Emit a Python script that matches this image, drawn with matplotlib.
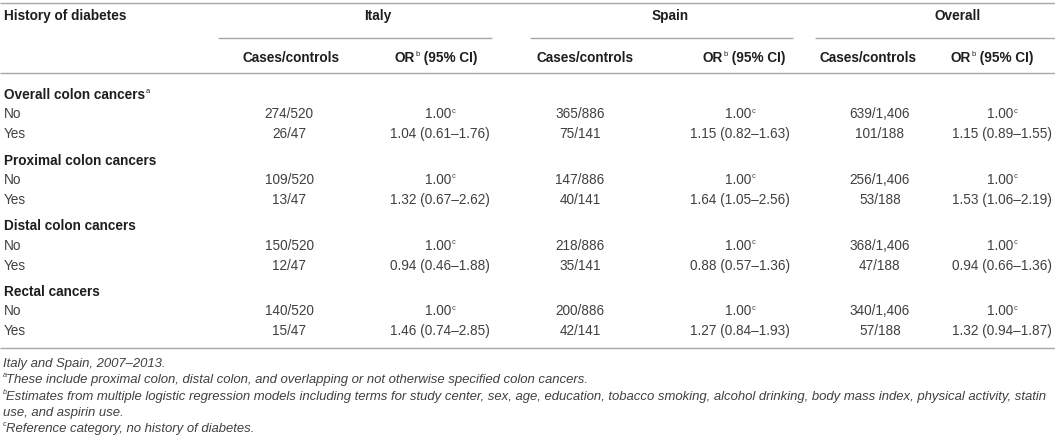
import matplotlib
matplotlib.use('Agg')
import matplotlib.pyplot as plt

plt.rcParams['font.family'] = ['Liberation Sans', 'DejaVu Sans']

# table content
sections = ['Overall colon cancers', 'Proximal colon cancers', 'Distal colon cancers', 'Rectal cancers']
section_sup = ['a', '', '', '']
countries = ['Italy', 'Spain', 'Overall']
cases_no = {
    'Italy': ['274/520', '109/520', '150/520', '140/520'],
    'Spain': ['365/886', '147/886', '218/886', '200/886'],
    'Overall': ['639/1,406', '256/1,406', '368/1,406', '340/1,406'],
}
cases_yes = {
    'Italy': ['26/47', '13/47', '12/47', '15/47'],
    'Spain': ['75/141', '40/141', '35/141', '42/141'],
    'Overall': ['101/188', '53/188', '47/188', '57/188'],
}
or_no = '1.00'
or_yes = {
    'Italy': ['1.04 (0.61–1.76)', '1.32 (0.67–2.62)', '0.94 (0.46–1.88)', '1.46 (0.74–2.85)'],
    'Spain': ['1.15 (0.82–1.63)', '1.64 (1.05–2.56)', '0.88 (0.57–1.36)', '1.27 (0.84–1.93)'],
    'Overall': ['1.15 (0.89–1.55)', '1.53 (1.06–2.19)', '0.94 (0.66–1.36)', '1.32 (0.94–1.87)'],
}
footnotes = [
    ('', 'Italy and Spain, 2007–2013.'),
    ('a', 'These include proximal colon, distal colon, and overlapping or not otherwise specified colon cancers.'),
    ('b', 'Estimates from multiple logistic regression models including terms for study center, sex, age, education, '
          'tobacco smoking, alcohol drinking, body mass index, physical activity, statin'),
    ('', 'use, and aspirin use.'),
    ('c', 'Reference category, no history of diabetes.'),
]

# layout (pixels)
W, H = 1055, 447
group_x = {'Italy': 378, 'Spain': 670, 'Overall': 958}
group_line = {'Italy': (218, 492), 'Spain': (530, 793), 'Overall': (815, 1055)}
head_cases_x = {'Italy': 291, 'Spain': 585, 'Overall': 868}
head_or_x = {'Italy': 436, 'Spain': 744, 'Overall': 992}
cases_x = {'Italy': 289, 'Spain': 580, 'Overall': 880}
or_x = {'Italy': 440, 'Spain': 740, 'Overall': 1002}

TXT = '#404040'
HDR = '#1e1e1e'
RULE = '#a8a8a8'
FS = 9.8
FS_NOTE = 9.45

fig = plt.figure(figsize=(W / 100, H / 100), dpi=100)
ax = fig.add_axes([0, 0, 1, 1])
ax.set_xlim(0, W)
ax.set_ylim(H, 0)
ax.axis('off')

groups = []  # (artists, ha, x)


def put(x, y, parts, ha='center', bold=False, italic=False, size=FS, color=TXT):
    # parts: string, or list of (string, is_superscript)
    if isinstance(parts, str):
        parts = [(parts, False)]
    weight = 'bold' if bold else 'normal'
    slant = 'italic' if italic else 'normal'
    cap = size * 1.389 * 0.716 / 2
    arts = []
    prev = None
    for s, sup in parts:
        if prev is None:
            a = ax.text(x, y + cap, s, ha='left', va='baseline', fontsize=size,
                        fontweight=weight, fontstyle=slant, color=color)
        elif sup:
            a = ax.annotate(s, xy=(1, 0.97), xycoords=prev, xytext=(0.3, 0),
                            textcoords='offset points', ha='left', va='top',
                            fontsize=size * 0.55, fontstyle=slant, color=color)
        else:
            a = ax.annotate(s, xy=(1, 0), xycoords=(prev, arts[0]), xytext=(0, 0),
                            textcoords='offset points', ha='left', va='bottom',
                            fontsize=size, fontweight=weight, fontstyle=slant, color=color)
        arts.append(a)
        prev = a
    groups.append((arts, ha, x))
    return arts


# rules
ax.hlines(2.5, 0, W, color=RULE, lw=1.0)
for c in countries:
    ax.hlines(38, *group_line[c], color=RULE, lw=1.0)
ax.hlines(73, 0, W, color=RULE, lw=1.0)
ax.hlines(348, 0, W, color=RULE, lw=1.0)

# headers
put(4, 15, 'History of diabetes', ha='left', bold=True, color=HDR)
for c in countries:
    put(group_x[c], 15, c, bold=True, color=HDR)
    put(head_cases_x[c], 57, 'Cases/controls', bold=True, color=HDR)
    put(head_or_x[c], 57, [('OR', False), ('b', True), (' (95% CI)', False)], bold=True, color=HDR)

# body
sec_y0, sec_step = 94, 65.7
for i, name in enumerate(sections):
    y = sec_y0 + i * sec_step
    head = [(name, False)] + ([(section_sup[i], True)] if section_sup[i] else [])
    put(4, y, head, ha='left', bold=True, color=HDR)
    put(4, y + 19.5, 'No', ha='left')
    put(4, y + 39.5, 'Yes', ha='left')
    for c in countries:
        put(cases_x[c], y + 19.5, cases_no[c][i])
        put(cases_x[c], y + 39.5, cases_yes[c][i])
        put(or_x[c], y + 19.5, [(or_no, False), ('c', True)])
        put(or_x[c], y + 39.5, or_yes[c][i])

# footnotes
foot_y = [362, 378.5, 395, 411, 427.5]
note_cap = FS_NOTE * 1.389 * 0.716 / 2
for (mark, s), y in zip(footnotes, foot_y):
    if mark:
        ax.text(2.5, y - note_cap + 3.4, mark, ha='left', va='baseline',
                fontsize=FS_NOTE * 0.55, fontstyle='italic', color=TXT)
        put(6.5, y, s, ha='left', italic=True, size=FS_NOTE)
    else:
        put(3, y, s, ha='left', italic=True, size=FS_NOTE)

# center the groups that should be centered
fig.canvas.draw()
r = fig.canvas.get_renderer()
for arts, ha, x in groups:
    if ha != 'center':
        continue
    x0 = arts[0].get_window_extent(r).x0
    x1 = max(a.get_window_extent(r).x1 for a in arts)
    arts[0].set_x(x - (x1 - x0) / 2)

fig.savefig('out.png', dpi=100)
